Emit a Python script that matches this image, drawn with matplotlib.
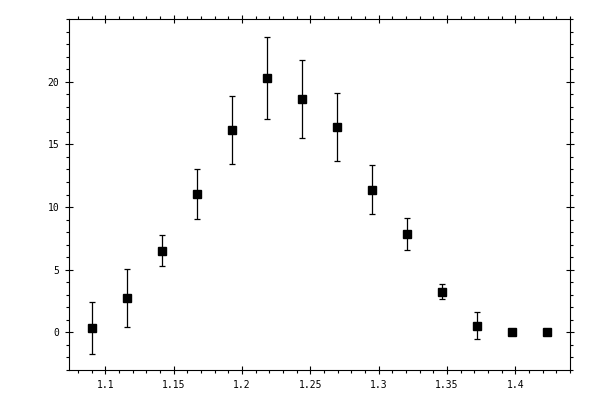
import numpy as np
import matplotlib
matplotlib.use('Agg')
import matplotlib.pyplot as plt
from matplotlib.ticker import MultipleLocator

# values
x = [1.0905, 1.1161, 1.1417, 1.1673, 1.1929, 1.2185, 1.2441,
     1.2697, 1.2953, 1.3209, 1.3465, 1.3721, 1.3977, 1.4233]
y = [0.37, 2.76, 6.51, 11.05, 16.15, 20.29, 18.62,
     16.39, 11.37, 7.86, 3.24, 0.53, 0.05, 0.0]
err = [2.07, 2.3, 1.24, 2.02, 2.7, 3.3, 3.1,
       2.7, 1.95, 1.3, 0.6, 1.06, 0.0, 0.0]

plt.rcParams['font.family'] = 'DejaVu Sans Mono'

fig = plt.figure(figsize=(6, 4), dpi=100)
ax = fig.add_axes([0.115, 0.075, 0.835, 0.8775])

ax.errorbar(x, y, yerr=err, fmt='s', color='black', markersize=5.2,
            elinewidth=0.9, capsize=2.2, capthick=0.9)

ax.set_xlim(1.0734, 1.440)
ax.set_ylim(-3, 25)

ax.xaxis.set_minor_locator(MultipleLocator(0.01))
ax.yaxis.set_minor_locator(MultipleLocator(1))
ax.set_xticks([1.1, 1.15, 1.2, 1.25, 1.3, 1.35, 1.4])
ax.set_xticklabels(['1.1', '1.15', '1.2', '1.25', '1.3', '1.35', '1.4'])
ax.set_yticks([0, 5, 10, 15, 20])
ax.set_yticklabels(['0', '5', '10', '15', '20'])

ax.tick_params(which='both', top=True, right=True, labelsize=7, width=0.8)
ax.tick_params(which='major', direction='inout', length=6, pad=4)
ax.tick_params(which='minor', direction='out', length=2.5)
for s in ax.spines.values():
    s.set_linewidth(0.8)

fig.savefig('out.png', dpi=100)
